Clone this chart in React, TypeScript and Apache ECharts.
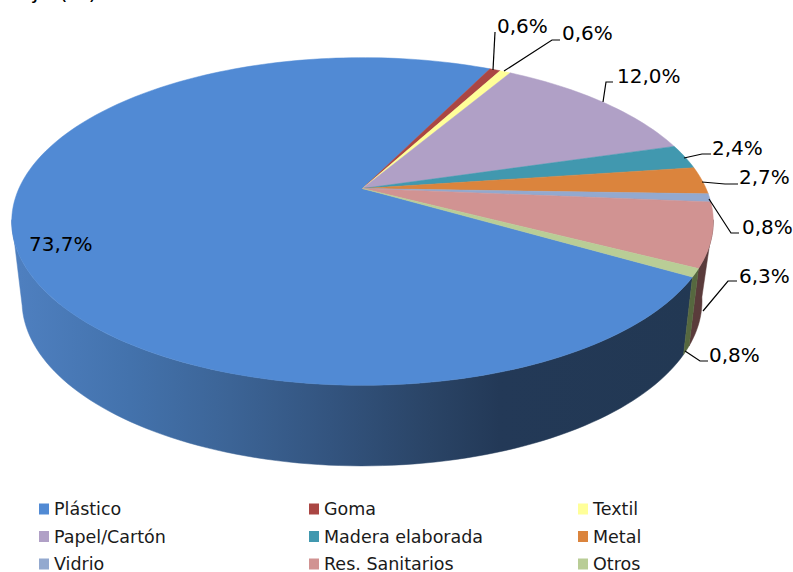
import React, { useEffect, useRef } from "react";
import * as echarts from "echarts";

const categories = ["Plástico", "Goma", "Textil", "Papel/Cartón", "Madera elaborada", "Metal", "Vidrio", "Res. Sanitarios", "Otros"];
const shares = [73.7, 0.6, 0.6, 12.0, 2.4, 2.7, 0.8, 6.3, 0.8];
const faceColors = ["#518ad4", "#aa4643", "#ffff99", "#b0a0c6", "#4198af", "#db843d", "#93a9cf", "#d19392", "#b9cd96"];
const legendColumns = [
  ["Plástico", "Papel/Cartón", "Vidrio"],
  ["Goma", "Madera elaborada", "Res. Sanitarios"],
  ["Textil", "Metal", "Otros"],
];
const legendLefts = [39, 309, 578];

// label anchor [x, y], leader polyline points (layout only)
const labelAnchors: number[][] = [
  [29, 244], [497, 26], [562, 33], [617, 76], [712, 148], [739, 177], [742, 227], [739, 276], [709, 355],
];
const leaders: number[][][] = [
  [],
  [[493, 70], [495, 32]],
  [[504, 71], [552, 40], [560, 40]],
  [[603, 102], [606, 82], [613, 82]],
  [[684, 158], [702, 154], [711, 154]],
  [[702, 182], [725, 184], [738, 184]],
  [[709, 199], [731, 233], [739, 233]],
  [[703, 311], [728, 281], [737, 281]],
  [[685, 351], [700, 361], [708, 361]],
];

const START_ANGLE = 120.4;
const WALL_MIN = 101;
const WALL_MAX = 259;
const BOTTOM_TWIST = -1.4;
const TOP = { cx: 362.5, y0: 188.5, A: 343.6, B: 157.2, p: 0.2012 };
const BOTTOM = { cx: 362, y0: 269.6, A: 333.8, B: 159, p: 0.19 };

type Face = typeof TOP;
function project(f: Face, deg: number): number[] {
  const t = (deg * Math.PI) / 180;
  const u = Math.sin(t);
  const v = -Math.cos(t);
  const d = 1 - f.p * v;
  return [f.cx + (f.A * u) / d, f.y0 + (f.B * v) / d];
}
function rim(f: Face, a: number, b: number): number[][] {
  const n = Math.max(2, Math.ceil(Math.abs(b - a) / 1.5));
  const out: number[][] = [];
  for (let i = 0; i <= n; i++) out.push(project(f, a + ((b - a) * i) / n));
  return out;
}

const total = shares.reduce((s, v) => s + v, 0);
const cumulative = shares.map((_, i) => shares.slice(0, i).reduce((s, v) => s + v, 0));

const plasticWall = {
  type: "linear", x: 0, y: 0, x2: 793, y2: 0, global: true,
  colorStops: [
    { offset: 20 / 793, color: "#4e7fbf" },
    { offset: 130 / 793, color: "#4372ac" },
    { offset: 230 / 793, color: "#3c6496" },
    { offset: 330 / 793, color: "#33547f" },
    { offset: 430 / 793, color: "#2a4466" },
    { offset: 500 / 793, color: "#233957" },
    { offset: 700 / 793, color: "#223853" },
  ],
};
const wallFills: any[] = [plasticWall, "#5a2f2e", "#6b6b40", "#4d4560", "#2a5060", "#6a4020", "#4f5a70", "#5a3b3b", "#56683f"];

function makeRenderItem(index: number) {
  return (_params: any, api: any) => {
    const value = api.value(0);
    const before = api.value(1);
    const a0 = START_ANGLE + (before / total) * 360;
    const a1 = a0 + (value / total) * 360;
    const children: any[] = [];
    // front wall: repeat the range one turn on, since the first slice wraps past 360
    const from = Math.max(a0, WALL_MIN);
    const to = Math.min(a1, WALL_MAX);
    const from2 = Math.max(a0 - 360, WALL_MIN);
    const to2 = Math.min(a1 - 360, WALL_MAX);
    [[from, to], [from2, to2]].forEach(([s, e]) => {
      if (e > s) {
        const pts = rim(TOP, s, e).concat(rim(BOTTOM, e + BOTTOM_TWIST, s + BOTTOM_TWIST));
        children.push({
          type: "polygon", z2: 1, silent: true,
          shape: { points: pts },
          style: { fill: wallFills[index], stroke: wallFills[index], lineWidth: 0.5 },
        });
      }
    });
    const facePts = [[TOP.cx, TOP.y0]].concat(rim(TOP, a0, a1));
    children.push({
      type: "polygon", z2: 2, silent: true,
      shape: { points: facePts },
      style: { fill: faceColors[index], stroke: faceColors[index], lineWidth: 0.5 },
    });
    if (leaders[index].length) {
      children.push({
        type: "polyline", z2: 3, silent: true,
        shape: { points: leaders[index] },
        style: { fill: "none", stroke: "#000", lineWidth: 1.2 },
      });
    }
    children.push({
      type: "text", z2: 4, silent: true,
      style: {
        text: value.toFixed(1).replace(".", ",") + "%",
        x: labelAnchors[index][0], y: labelAnchors[index][1],
        fontFamily: "DejaVu Sans", fontSize: 20, fill: "#000",
        verticalAlign: "middle", align: "left",
      },
    });
    return { type: "group", children };
  };
}

export default function App() {
  const ref = useRef<HTMLDivElement>(null);
  useEffect(() => {
    const chart = echarts.init(ref.current!, null, { renderer: "svg" });
    chart.setOption({
      animation: false,
      backgroundColor: "#fff",
      legend: legendColumns.map((col, i) => ({
        data: col,
        orient: "vertical",
        left: legendLefts[i],
        top: 500,
        height: 100,
        padding: 0,
        itemWidth: 10,
        itemHeight: 11,
        itemGap: 9.5,
        selectedMode: false,
        icon: "rect",
        textStyle: { fontFamily: "DejaVu Sans", fontSize: 17.5, color: "#1a1a1a", lineHeight: 17 },
      })),
      graphic: [
        {
          type: "text", left: 19, top: -20, silent: true,
          style: { text: "ajo (%)", fontFamily: "DejaVu Sans", fontSize: 22, fill: "#000" },
        },
      ],
      series: categories.map((name, i) => ({
        type: "custom",
        name,
        coordinateSystem: "none",
        color: faceColors[i],
        itemStyle: { color: faceColors[i] },
        clip: false,
        renderItem: makeRenderItem(i),
        data: [[shares[i], cumulative[i]]],
      })),
    });
    return () => chart.dispose();
  }, []);
  return <div ref={ref} style={{ position: "absolute", left: 0, top: 0, width: 793, height: 572 }} />;
}
